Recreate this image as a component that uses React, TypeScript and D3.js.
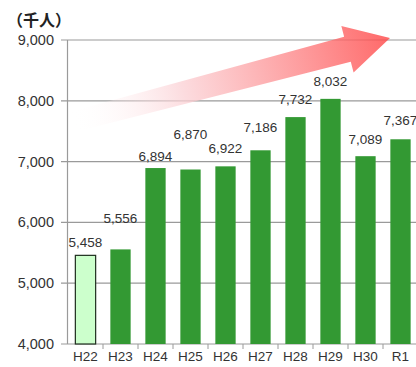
import React from "react";
import * as d3 from "d3";

const categories = ["H22", "H23", "H24", "H25", "H26", "H27", "H28", "H29", "H30", "R1"];
const values = [5458, 5556, 6894, 6870, 6922, 7186, 7732, 8032, 7089, 7367];
const yTicks = [4000, 5000, 6000, 7000, 8000, 9000];
const labelLift = [8, 26, 7, 31, 13, 18, 13, 13, 12, 14];

const W = 416;
const H = 367;

export default function App() {
  const y = d3.scaleLinear().domain([4000, 9000]).range([344, 40]);
  const x = d3
    .scaleBand<string>()
    .domain(categories)
    .range([68, 418])
    .paddingInner(0.42)
    .paddingOuter(0.21);
  const step = x.step();
  const fmt = d3.format(",");
  const font = "'Liberation Sans', Arial, sans-serif";

  // arrow geometry
  const tail = [72, 122];
  const tip = [390, 38];
  const ang = Math.atan2(tip[1] - tail[1], tip[0] - tail[0]);
  const len = Math.hypot(tip[0] - tail[0], tip[1] - tail[1]);
  const headLen = 44;
  const headHalf = 24;
  const shaftHalf = 13;
  const pts: [number, number][] = [
    [0, -shaftHalf * 0.8],
    [len - headLen, -shaftHalf],
    [len - headLen, -headHalf],
    [len, 0],
    [len - headLen, headHalf],
    [len - headLen, shaftHalf],
    [0, shaftHalf * 0.8],
  ];
  const tr = pts.map(([u, v]) => [
    tail[0] + u * Math.cos(ang) - v * Math.sin(ang),
    tail[1] + u * Math.sin(ang) + v * Math.cos(ang),
  ]);
  const arrowPath = "M" + tr.map((p) => p.join(",")).join("L") + "Z";

  return (
    <svg
      width={W}
      height={H}
      style={{ position: "absolute", left: 0, top: 0, background: "#fff" }}
    >
      <defs>
        <linearGradient
          id="arrowGrad"
          gradientUnits="userSpaceOnUse"
          x1={tail[0]}
          y1={tail[1]}
          x2={tip[0]}
          y2={tip[1]}
        >
          <stop offset="0" stopColor="#ffffff" stopOpacity={0} />
          <stop offset="0.35" stopColor="#fbd0d4" stopOpacity={0.75} />
          <stop offset="1" stopColor="#ff4848" stopOpacity={0.82} />
        </linearGradient>
      </defs>
      <text
        x={7}
        y={26}
        fontFamily="'Noto Sans CJK JP', sans-serif"
        fontSize={16}
        fontWeight="bold"
        fill="#222"
      >
        （千人）
      </text>
      {yTicks.map((t) => (
        <g key={t}>
          <line x1={61} x2={W} y1={y(t)} y2={y(t)} stroke="#9a9a9a" strokeWidth={1.2} />
          <text
            x={54}
            y={y(t) + 5}
            textAnchor="end"
            fontFamily={font}
            fontSize={14.5}
            fill="#333"
          >
            {fmt(t)}
          </text>
        </g>
      ))}
      <line x1={67.5} x2={67.5} y1={y(9000)} y2={y(4000)} stroke="#9a9a9a" strokeWidth={1.2} />
      {categories.map((c, i) => (
        <line
          key={"t" + c}
          x1={68 + step * (i + 1)}
          x2={68 + step * (i + 1)}
          y1={y(4000)}
          y2={y(4000) + 5}
          stroke="#9a9a9a"
        />
      ))}
      {categories.map((c, i) => (
        <rect
          key={c}
          x={x(c)!}
          y={y(values[i])}
          width={x.bandwidth()}
          height={y(4000) - y(values[i])}
          fill={i === 0 ? "#ccffcc" : "#339933"}
          stroke={i === 0 ? "#1e2e1e" : "none"}
          strokeWidth={i === 0 ? 1.2 : 0}
        />
      ))}
      <path d={arrowPath} fill="url(#arrowGrad)" />
      {categories.map((c, i) => (
        <text
          key={"v" + c}
          x={x(c)! + x.bandwidth() / 2}
          y={y(values[i]) - labelLift[i]}
          textAnchor="middle"
          fontFamily={font}
          fontSize={13.5}
          fill="#333"
        >
          {fmt(values[i])}
        </text>
      ))}
      {categories.map((c) => (
        <text
          key={"x" + c}
          x={x(c)! + x.bandwidth() / 2}
          y={361}
          textAnchor="middle"
          fontFamily={font}
          fontSize={13.5}
          fill="#333"
        >
          {c}
        </text>
      ))}
    </svg>
  );
}
